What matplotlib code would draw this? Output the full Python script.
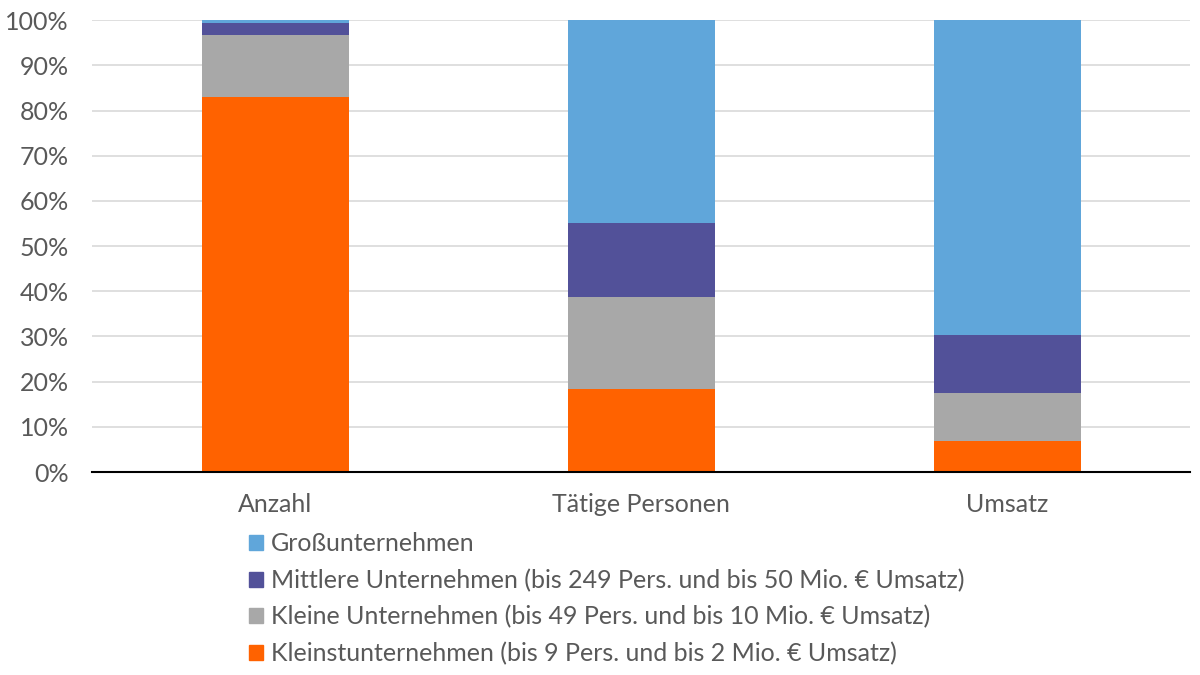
import matplotlib

matplotlib.use("Agg")
import matplotlib.pyplot as plt
import numpy as np
from matplotlib.patches import Patch

plt.rcParams["font.family"] = ["Lato", "DejaVu Sans"]

CATEGORIES = ["Anzahl", "Tätige Personen", "Umsatz"]
SERIES = [
    "Kleinstunternehmen (bis 9 Pers. und bis 2 Mio. € Umsatz)",
    "Kleine Unternehmen (bis 49 Pers. und bis 10 Mio. € Umsatz)",
    "Mittlere Unternehmen (bis 249 Pers. und bis 50 Mio. € Umsatz)",
    "Großunternehmen",
]
KLEINST = [83.0, 18.4, 6.8]
KLEIN = [13.7, 20.3, 10.7]
MITTEL = [2.6, 16.4, 12.8]
GROSS = [0.7, 44.9, 69.7]
COLORS = ["#FF6200", "#A8A8A8", "#525199", "#60A6DA"]
TEXT = "#595959"

fig = plt.figure(figsize=(12, 6.75), dpi=100)
ax = fig.add_axes([0.077, 0.3007, 0.915, 0.6693])

x = np.arange(len(CATEGORIES))
bottom = np.zeros(len(CATEGORIES))
for vals, color in zip([KLEINST, KLEIN, MITTEL, GROSS], COLORS):
    ax.bar(x, vals, width=0.4, bottom=bottom, color=color, zorder=3)
    bottom += np.array(vals)

ax.set_xlim(-0.5, 2.5)
ax.set_ylim(0, 100)
ax.set_yticks(np.arange(0, 101, 10))
ax.set_yticklabels([f"{v}%" for v in range(0, 101, 10)])
ax.set_xticks(x)
ax.set_xticklabels(CATEGORIES)
ax.grid(axis="y", color="#D9D9D9", lw=1.2, zorder=0)
for s in ["top", "right", "left"]:
    ax.spines[s].set_visible(False)
ax.spines["bottom"].set_color("black")
ax.spines["bottom"].set_linewidth(1.5)
ax.spines["bottom"].set_zorder(4)
ax.tick_params(axis="both", length=0, labelsize=18, colors=TEXT)
ax.tick_params(axis="x", pad=15)
ax.tick_params(axis="y", pad=17)

handles = [Patch(color=c) for c in COLORS][::-1]
fig.legend(handles, SERIES[::-1], loc="upper left", bbox_to_anchor=(0.199, 0.226),
           frameon=False, fontsize=18, labelcolor=TEXT, handlelength=0.55,
           handleheight=0.55, handletextpad=0.35, labelspacing=0.53, borderaxespad=0)

fig.savefig("out.png", dpi=100)
